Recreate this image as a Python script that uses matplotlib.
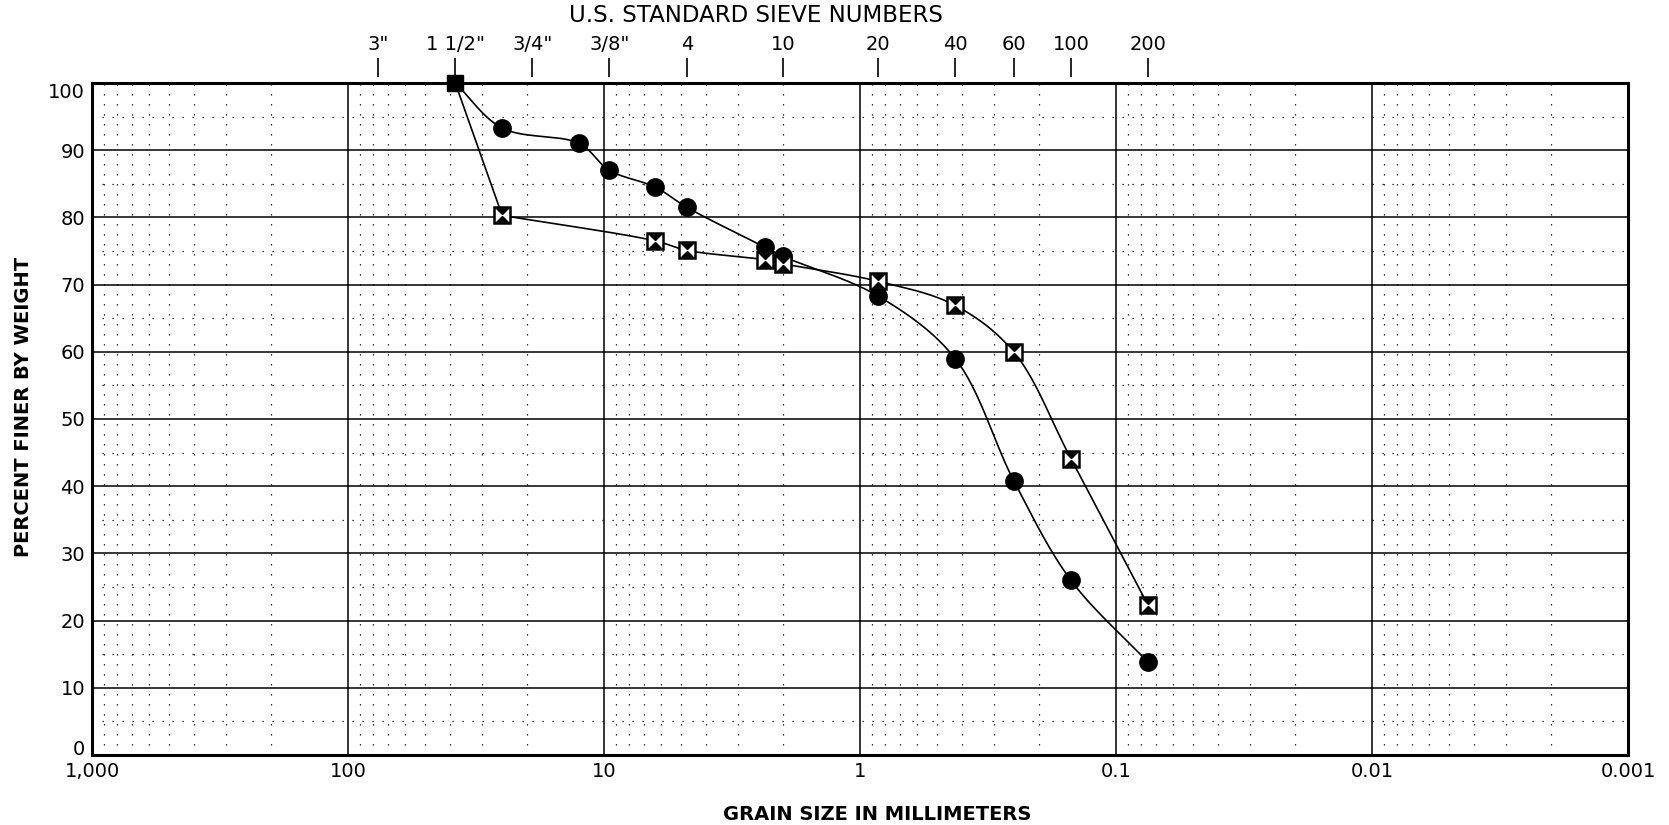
import numpy as np
import matplotlib
matplotlib.use("Agg")
import matplotlib.pyplot as plt
from matplotlib.path import Path

plt.rcParams['font.family'] = ['DejaVu Sans']

# ---- data ----
sieve_labels = ['3"', '1 1/2"', '3/4"', '3/8"', '4', '10', '20', '40', '60', '100', '200']
sieve_sizes = [76.2, 38.1, 19.05, 9.525, 4.75, 2.0, 0.85, 0.425, 0.25, 0.15, 0.075]

x_ticks = [1000, 100, 10, 1, 0.1, 0.01, 0.001]
x_ticklabels = ['1,000', '100', '10', '1', '0.1', '0.01', '0.001']
y_ticks = [0, 10, 20, 30, 40, 50, 60, 70, 80, 90, 100]

start_size = 38.1
start_pct = 100.0

circle_sizes = [25.0, 12.5, 9.525, 6.3, 4.75, 2.36, 2.0, 0.85, 0.425, 0.25, 0.15, 0.075]
circle_pct = [93.3, 91.0, 87.0, 84.5, 81.5, 75.6, 74.2, 68.3, 59.0, 40.7, 26.0, 13.8]

square_sizes = [25.0, 6.3, 4.75, 2.36, 2.0, 0.85, 0.425, 0.25, 0.15, 0.075]
square_pct = [80.3, 76.5, 75.1, 73.7, 73.1, 70.5, 66.9, 59.9, 44.1, 22.3]

PX_DEC = 256.0   # pixels per decade (for curve shaping only)
PX_PCT = 6.72    # pixels per percent


def catmull_rom(sizes, pct, n_seg=60, alpha=0.5):
    u = -np.log10(np.asarray(sizes, float)) * PX_DEC
    v = np.asarray(pct, float) * PX_PCT
    P = np.column_stack([u, v])
    P = np.vstack([2 * P[0] - P[1], P, 2 * P[-1] - P[-2]])
    out = []
    for i in range(1, len(P) - 2):
        p0, p1, p2, p3 = P[i - 1], P[i], P[i + 1], P[i + 2]
        t0 = 0.0
        t1 = t0 + np.linalg.norm(p1 - p0) ** alpha
        t2 = t1 + np.linalg.norm(p2 - p1) ** alpha
        t3 = t2 + np.linalg.norm(p3 - p2) ** alpha
        t = np.linspace(t1, t2, n_seg)[:, None]
        a1 = (t1 - t) / (t1 - t0) * p0 + (t - t0) / (t1 - t0) * p1
        a2 = (t2 - t) / (t2 - t1) * p1 + (t - t1) / (t2 - t1) * p2
        a3 = (t3 - t) / (t3 - t2) * p2 + (t - t2) / (t3 - t2) * p3
        b1 = (t2 - t) / (t2 - t0) * a1 + (t - t0) / (t2 - t0) * a2
        b2 = (t3 - t) / (t3 - t1) * a2 + (t - t1) / (t3 - t1) * a3
        c = (t2 - t) / (t2 - t1) * b1 + (t - t1) / (t2 - t1) * b2
        out.append(c)
    c = np.vstack(out)
    return 10 ** (-c[:, 0] / PX_DEC), c[:, 1] / PX_PCT


W, H = 1669, 825
L, R, T, B = 92, 1628, 83, 755
fig = plt.figure(figsize=(W / 100, H / 100), dpi=100)
ax = fig.add_axes([L / W, 1 - B / H, (R - L) / W, (B - T) / H])
ax.set_xscale('log')
ax.set_xlim(1000, 0.001)
ax.set_ylim(0, 100)

# grid
dot = (0, (1, 7))
for d in [1000, 100, 10, 1, 0.1, 0.01]:
    for k in range(2, 10):
        ax.axvline(d / 10 * k, color='black', lw=0.9, ls=dot, zorder=1)
for d in [100, 10, 1, 0.1, 0.01]:
    ax.axvline(d, color='black', lw=1.1, zorder=1)
for yv in range(5, 100, 10):
    ax.axhline(yv, color='black', lw=0.9, ls=dot, zorder=1)
for yv in range(10, 100, 10):
    ax.axhline(yv, color='black', lw=1.1, zorder=1)

# curves
cx, cy = catmull_rom([start_size] + circle_sizes, [start_pct] + circle_pct)
ax.plot(cx, cy, color='black', lw=1.2, zorder=3)
ax.plot([start_size, square_sizes[0]], [start_pct, square_pct[0]], color='black', lw=1.2, zorder=3)
sx, sy = catmull_rom(square_sizes, square_pct)
ax.plot(sx, sy, color='black', lw=1.2, zorder=3)

ax.plot(circle_sizes, circle_pct, 'o', ms=12.5, color='black', zorder=5)
ax.plot(square_sizes, square_pct, 's', ms=11.5, mfc='white', mec='black', mew=1.8, zorder=5)
hourglass = Path([(-1, 1), (1, 1), (-1, -1), (1, -1), (-1, 1)],
                 [Path.MOVETO, Path.LINETO, Path.LINETO, Path.LINETO, Path.CLOSEPOLY])
ax.plot(square_sizes, square_pct, marker=hourglass, ls='none', ms=10.5, color='black',
        mew=0, zorder=6)
ax.plot([start_size], [start_pct], 's', ms=12, color='black', zorder=7, clip_on=False)

ax.set_xticks(x_ticks)
ax.set_xticklabels(x_ticklabels, fontsize=14)
ax.xaxis.set_minor_locator(matplotlib.ticker.NullLocator())
ax.set_yticks(y_ticks)
ax.set_yticklabels([str(v) for v in y_ticks], fontsize=14)
ax.tick_params(axis='x', length=0, pad=5)
ax.tick_params(axis='y', length=0, pad=5)
ylabs = ax.get_yticklabels()
ylabs[0].set_va('baseline')
ylabs[-1].set_va('top')
for s in ax.spines.values():
    s.set_linewidth(2.2)
    s.set_zorder(8)

ax.set_xlabel('GRAIN SIZE IN MILLIMETERS', fontsize=14, fontweight='bold')
ax.xaxis.set_label_coords((877 - L) / (R - L), -(815 - B) / (B - T), transform=ax.transAxes)
ax.xaxis.label.set_va('center')
ax.set_ylabel('PERCENT FINER BY WEIGHT', fontsize=14, fontweight='bold')
ax.yaxis.set_label_coords(-(L - 24) / (R - L), (B - 407) / (B - T), transform=ax.transAxes)
ax.yaxis.label.set_va('center')

# top sieve axis
ax2 = ax.twiny()
ax2.spines['top'].set_position(('outward', 4.5))
for s in ax2.spines.values():
    s.set_visible(False)
ax2.set_xscale('log')
ax2.set_xlim(1000, 0.001)
ax2.set_xticks(sieve_sizes)
ax2.set_xticklabels(sieve_labels)
ax2.xaxis.set_minor_locator(matplotlib.ticker.NullLocator())
ax2.tick_params(axis='x', direction='out', length=13.5, width=1.2, pad=3, labelsize=14)

fig.text(756 / W, 1 - 16 / H, 'U.S. STANDARD SIEVE NUMBERS', fontsize=16.5,
         ha='center', va='center')

fig.savefig('out.png', dpi=100)
